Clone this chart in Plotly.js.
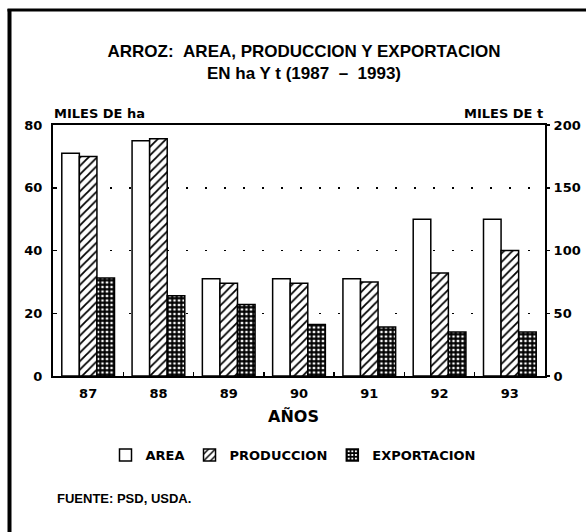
<!DOCTYPE html>
<html>
<head>
<meta charset="utf-8">
<script src="https://cdn.plot.ly/plotly-3.0.1.min.js"></script>
<style>
  html, body { margin: 0; padding: 0; background: #fff; }
  #chart { width: 586px; height: 532px; }
</style>
</head>
<body>
<div id="chart"></div>
<script>
// ---- data ----
const years = ['87', '88', '89', '90', '91', '92', '93'];
const areaMilesHa = [71, 75, 31, 31, 31, 50, 50];          // left axis, miles de ha
const produccionMilesT = [175, 189, 74, 74, 75, 82, 100];  // right axis, miles de t
const exportacionMilesT = [78, 64, 57, 41, 39, 35, 35];    // right axis, miles de t
const leftTicks = [0, 20, 40, 60, 80];
const rightTicks = [0, 50, 100, 150, 200];

const heavy = 'DejaVu Sans, Arial Black, sans-serif';
const plain = 'Liberation Sans, Arial, sans-serif';
const outline = { color: '#000', width: 1.5 };

const traces = [
  {
    type: 'bar', name: 'AREA', x: years, y: areaMilesHa, yaxis: 'y',
    width: 0.25, offset: -0.375,
    marker: { color: '#fff', line: outline }
  },
  {
    type: 'bar', name: 'PRODUCCION', x: years, y: produccionMilesT, yaxis: 'y2',
    width: 0.25, offset: -0.125,
    marker: { color: '#fff', line: outline,
      pattern: { shape: '/', fgcolor: '#000', bgcolor: '#fff', size: 6, solidity: 0.3 } }
  },
  {
    type: 'bar', name: 'EXPORTACION', x: years, y: exportacionMilesT, yaxis: 'y2',
    width: 0.25, offset: 0.125,
    marker: { color: '#fff', line: outline,
      pattern: { shape: '+', fgcolor: '#000', bgcolor: '#fff', size: 4.5, solidity: 0.7 } }
  }
];

const L = 53, R = 545, T = 125, B = 376;
const px2x = p => (p - L) / (R - L);
const px2y = p => (B - p) / (B - T);

const layout = {
  width: 586, height: 532,
  margin: { l: L, r: 586 - R, t: T, b: 532 - B, pad: 0 },
  paper_bgcolor: '#fff', plot_bgcolor: '#fff',
  showlegend: true,
  barmode: 'overlay',
  title: {
    text: 'ARROZ:\u00A0\u00A0AREA, PRODUCCION Y EXPORTACION<br>EN ha Y t (1987\u00A0 \u2013 \u00A01993)',
    font: { family: plain, size: 17, color: '#000', weight: 'bold' },
    xref: 'container', yref: 'container',
    x: 304 / 586, xanchor: 'center',
    y: 1 - 57 / 532, yanchor: 'top'
  },
  xaxis: {
    type: 'category', categoryorder: 'array', categoryarray: years,
    range: [-0.5, 6.5],
    showline: true, mirror: true, linecolor: '#000', linewidth: 2,
    ticks: 'inside', tickson: 'boundaries', ticklen: 4, tickwidth: 1.5, tickcolor: '#000',
    ticklabelstandoff: 4,
    tickfont: { family: heavy, size: 13, color: '#000', weight: 'bold' },
    showgrid: false, zeroline: false, fixedrange: true
  },
  yaxis: {
    range: [0, 80], tickvals: leftTicks, ticktext: leftTicks.map(String),
    showline: true, linecolor: '#000', linewidth: 2,
    ticks: 'inside', ticklen: 4, tickwidth: 1.5, tickcolor: '#000',
    ticklabelstandoff: 6,
    tickfont: { family: heavy, size: 13, color: '#000', weight: 'bold' },
    showgrid: true, gridcolor: '#000', gridwidth: 1.5, griddash: '2px,17px',
    zeroline: false, fixedrange: true
  },
  yaxis2: {
    range: [0, 200], tickvals: rightTicks, ticktext: rightTicks.map(String),
    overlaying: 'y', side: 'right', anchor: 'x',
    showline: true, linecolor: '#000', linewidth: 2,
    ticks: 'outside', ticklen: 3, tickwidth: 1.5, tickcolor: '#000',
    ticklabelstandoff: 1,
    tickfont: { family: heavy, size: 13, color: '#000', weight: 'bold' },
    showgrid: false, zeroline: false, fixedrange: true
  },
  legend: {
    orientation: 'h', x: px2x(293), xanchor: 'center', y: px2y(455), yanchor: 'middle',
    font: { family: heavy, size: 13, color: '#000', weight: 'bold' },
    itemwidth: 30, traceorder: 'normal', bgcolor: 'rgba(0,0,0,0)'
  },
  annotations: [
    { text: 'MILES DE ha', xref: 'paper', yref: 'paper', x: px2x(52), y: px2y(113),
      xanchor: 'left', yanchor: 'middle', showarrow: false,
      font: { family: heavy, size: 13, color: '#000', weight: 'bold' } },
    { text: 'MILES DE t', xref: 'paper', yref: 'paper', x: px2x(545), y: px2y(113),
      xanchor: 'right', yanchor: 'middle', showarrow: false,
      font: { family: heavy, size: 13, color: '#000', weight: 'bold' } },
    { text: 'AÑOS', xref: 'paper', yref: 'paper', x: px2x(293.5), y: px2y(416),
      xanchor: 'center', yanchor: 'middle', showarrow: false,
      font: { family: heavy, size: 16, color: '#000', weight: 'bold' } },
    { text: 'FUENTE: PSD, USDA.', xref: 'paper', yref: 'paper', x: px2x(55), y: px2y(498),
      xanchor: 'left', yanchor: 'middle', showarrow: false,
      font: { family: plain, size: 13, color: '#000', weight: 'bold' } }
  ],
  shapes: [
    // outer frame (left and top edges visible in the reference)
    { type: 'line', xref: 'paper', yref: 'paper', x0: px2x(9.5), x1: px2x(9.5), y0: px2y(9), y1: px2y(540),
      line: { color: '#000', width: 4 } },
    { type: 'line', xref: 'paper', yref: 'paper', x0: px2x(7.5), x1: px2x(600), y0: px2y(10), y1: px2y(10),
      line: { color: '#000', width: 3 } }
  ]
};

Plotly.newPlot('chart', traces, layout, { staticPlot: true, displayModeBar: false });
</script>
</body>
</html>
